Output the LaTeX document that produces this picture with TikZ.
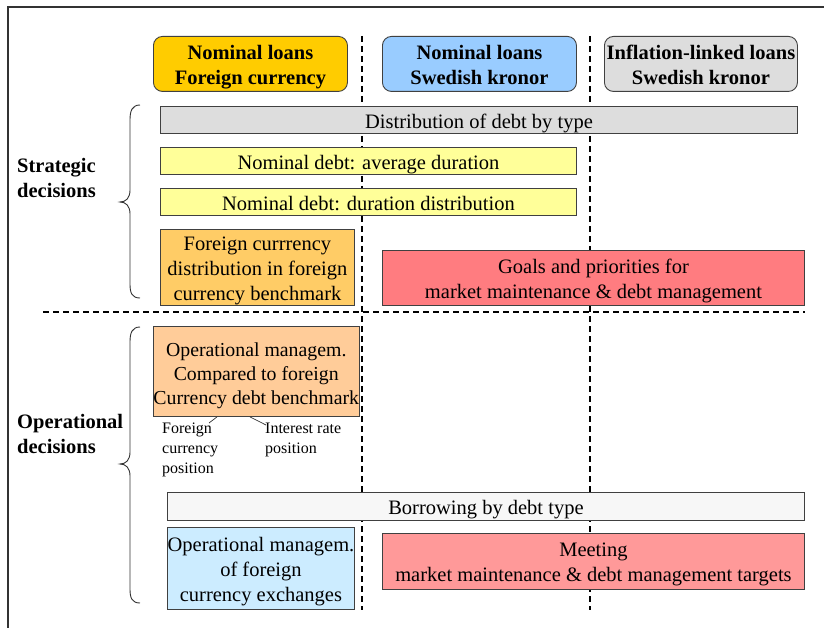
\documentclass[tikz,border=0pt]{standalone}
\usepackage{fontspec}
\setmainfont{Liberation Serif}
\newfontfamily\tms{Liberation Serif}
\definecolor{hyellow}{HTML}{FFCC00}
\definecolor{hblue}{HTML}{99CCFF}
\definecolor{hgrey}{HTML}{DDDDDD}
\definecolor{lyellow}{HTML}{FFFF99}
\definecolor{lorange}{HTML}{FFCC66}
\definecolor{goalred}{HTML}{FF7C80}
\definecolor{peach}{HTML}{FFCC99}
\definecolor{offwhite}{HTML}{F7F7F7}
\definecolor{lblue}{HTML}{CCECFF}
\definecolor{meetred}{HTML}{FF9999}
\begin{document}
\begin{tikzpicture}[x=1pt,y=-1pt,
  vstrut/.style={execute at begin node=\rule{0pt}{#1}, execute at end node=\rule[-5pt]{0pt}{5pt}},
  vstrut/.default=22pt,
  box/.style={draw=black!75, line width=0.9pt, inner sep=0pt, align=center,
    font=\tms\fontsize{20.5}{25}\selectfont, anchor=north west, vstrut},
  twoline/.style={vstrut=46pt},
  threeline/.style={vstrut=71pt},
  head/.style={box, twoline, rounded corners=9pt, font=\tms\fontsize{20.5}{25}\selectfont\bfseries},
  sepline/.style={line width=1.6pt, dash pattern=on 6pt off 4pt},
  small/.style={font=\tms\fontsize{16}{20}\selectfont, align=left, inner sep=0pt, anchor=north west},
  side/.style={font=\tms\fontsize{20.5}{25}\selectfont\bfseries, align=left, inner sep=0pt, anchor=west, vstrut=47pt},
  brace/.style={draw=black!80, line width=0.9pt},
  frame/.style={draw=black!80, line width=1.2pt}]
\path[use as bounding box] (0,0) rectangle (824,628);
% frame
\draw[frame] (8,628) -- (8,7) -- (824,7);
% dashed separators
\draw[sepline] (362,36) -- (362,610);
\draw[sepline] (590,36) -- (590,610);
\draw[sepline] (43,312) -- (805,312);
% headers
\node[head, fill=hyellow, minimum width=194pt, minimum height=55pt] (h1) at (153,36) {Nominal loans\\Foreign currency};
\node[head, fill=hblue, minimum width=194pt, minimum height=55pt] (h2) at (382,36) {Nominal loans\\Swedish kronor};
\node[head, fill=hgrey, minimum width=193pt, minimum height=55pt] (h3) at (604,36) {Inflation-linked loans\\Swedish kronor};
% strategic
\node[box, fill=hgrey, minimum width=637pt, minimum height=26pt, vstrut=19pt] (dist) at (160,106) {Distribution of debt by type};
\node[box, fill=lyellow, minimum width=416pt, minimum height=27pt, vstrut=19pt] (avg) at (160,147) {Nominal debt: average duration};
\node[box, fill=lyellow, minimum width=416pt, minimum height=27pt] (ddist) at (160,188) {Nominal debt: duration distribution};
\node[box, threeline, fill=lorange, minimum width=194pt, minimum height=76pt] (fcd) at (160,229) {Foreign currrency\\distribution in foreign\\currency benchmark};
\node[box, twoline, fill=goalred, minimum width=422pt, minimum height=55pt] (goals) at (382,250) {Goals and priorities for\\market maintenance \& debt management};
% operational
\node[box, fill=peach, minimum width=201pt, minimum height=90pt, vstrut=72pt, font=\tms\fontsize{19.8}{24}\selectfont] (op) at (153,326) {Operational managem.\\Compared to foreign\\Currency debt benchmark};
\node[small] (fcp) at (162,423) {Foreign\\currency\\position};
\node[small] (irp) at (265,423) {Interest rate\\position};
\draw[draw=black!80, line width=0.7pt] ([xshift=64pt]op.south west) -- ([xshift=47pt]fcp.north west);
\draw[draw=black!80, line width=0.7pt] ([xshift=97pt]op.south west) -- ([xshift=1pt,yshift=-2pt]irp.north west);
\node[box, fill=offwhite, minimum width=637pt, minimum height=28pt] (borrow) at (167,492) {Borrowing by debt type};
\node[box, threeline, fill=lblue, minimum width=187pt, minimum height=82pt] (opfx) at (167,527) {Operational managem.\\of foreign\\currency exchanges};
\node[box, twoline, fill=meetred, minimum width=422pt, minimum height=56pt] (meet) at (382,533) {Meeting\\market maintenance \& debt management targets};
% side labels
\node[side] (strat) at (17,177) {Strategic\\decisions};
\node[side] (oper) at (17,432) {Operational\\decisions};
% braces
\draw[brace] (140,105) .. controls (132,105) and (130,111) .. (130,120)
  -- (130,190) .. controls (130,198) and (126,202) .. (120,202)
  .. controls (126,202) and (130,206) .. (130,214)
  -- (130,284) .. controls (130,293) and (132,298) .. (140,298);
\draw[brace] (140,327) .. controls (132,327) and (130,333) .. (130,342)
  -- (130,452) .. controls (130,460) and (126,464) .. (120,464)
  .. controls (126,464) and (130,468) .. (130,476)
  -- (130,589) .. controls (130,598) and (132,603) .. (140,603);
\end{tikzpicture}
\end{document}
